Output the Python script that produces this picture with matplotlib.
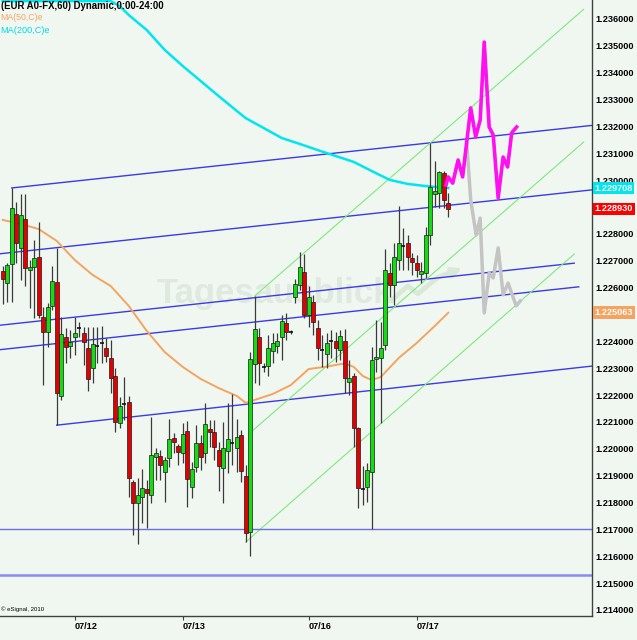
import matplotlib

matplotlib.use("Agg")
import matplotlib.pyplot as plt
import matplotlib.transforms as mtransforms
import numpy as np

plt.rcParams["font.family"] = ["Liberation Sans", "DejaVu Sans"]

BG = "#f0f7f0"

# --- hourly EUR candles (index 0 = first bar on the left) -------------------
opens = [
    1.22662, 1.22617, 1.22688, 1.22874, 1.22748, 1.22856, 1.22666, 1.22677, 1.22714, 1.22491,
    1.22435, 1.22532, 1.22621, 1.22197, 1.22416, 1.22383, 1.22416, 1.22450, 1.22431, 1.22375,
    1.22301, 1.22383, 1.22394, 1.22375, 1.22338, 1.22271, 1.22096, 1.22167, 1.22174, 1.21876,
    1.21798, 1.21821, 1.21850, 1.21828, 1.21970, 1.21973, 1.21914, 1.21966, 1.22040, 1.22010,
    1.21984, 1.22066, 1.21858, 1.21932, 1.22022, 1.21984, 1.22074, 1.22063, 1.21996, 1.21929,
    1.21992, 1.22022, 1.22003, 1.22051, 1.21899, 1.21690, 1.22316, 1.22416, 1.22305, 1.22308,
    1.22364, 1.22383, 1.22416, 1.22468, 1.22435, 1.22565, 1.22610, 1.22658, 1.22498, 1.22546,
    1.22450, 1.22368, 1.22353, 1.22401, 1.22401, 1.22368, 1.22401, 1.22249, 1.22271, 1.22077,
    1.21850, 1.21858, 1.21914, 1.22334, 1.22338, 1.22386, 1.22654, 1.22610, 1.22703, 1.22755,
    1.22766, 1.22710, 1.22692, 1.22651, 1.22654, 1.22796, 1.22949, 1.22952, 1.23027, 1.22915,
]
highs = [
    1.22681, 1.22692, 1.22971, 1.22919, 1.22949, 1.22949, 1.22703, 1.22777, 1.22844, 1.22528,
    1.22543, 1.22681, 1.22748, 1.22491, 1.22450, 1.22442, 1.22491, 1.22472, 1.22453, 1.22453,
    1.22453, 1.22453, 1.22457, 1.22412, 1.22405, 1.22301, 1.22193, 1.22267, 1.22197, 1.21884,
    1.21891, 1.21925, 1.21884, 1.22118, 1.22003, 1.21996, 1.21970, 1.22111, 1.22059, 1.22018,
    1.22096, 1.22104, 1.21951, 1.22089, 1.22051, 1.22171, 1.22107, 1.22107, 1.22025, 1.22100,
    1.22171, 1.22204, 1.22111, 1.22070, 1.21940, 1.22360, 1.22569, 1.22450, 1.22319, 1.22424,
    1.22431, 1.22431, 1.22498, 1.22506, 1.22442, 1.22632, 1.22733, 1.22725, 1.22606, 1.22573,
    1.22479, 1.22424, 1.22431, 1.22442, 1.22435, 1.22442, 1.22446, 1.22331, 1.22282, 1.22080,
    1.21936, 1.21947, 1.22379, 1.22479, 1.22472, 1.22744, 1.22692, 1.22766, 1.22904, 1.22822,
    1.22796, 1.22729, 1.22721, 1.22695, 1.22826, 1.23138, 1.23071, 1.23034, 1.23033, 1.22952,
]
lows = [
    1.22539, 1.22546, 1.22546, 1.22692, 1.22628, 1.22606, 1.22524, 1.22487, 1.22487, 1.22237,
    1.22379, 1.22517, 1.22089, 1.22182, 1.22319, 1.22338, 1.22349, 1.22416, 1.22312, 1.22215,
    1.22245, 1.22319, 1.22319, 1.22323, 1.22208, 1.22063, 1.22077, 1.22107, 1.21821, 1.21679,
    1.21646, 1.21724, 1.21705, 1.21798, 1.21884, 1.21884, 1.21802, 1.21932, 1.21984, 1.21940,
    1.21947, 1.21783, 1.21817, 1.21914, 1.21921, 1.21947, 1.22007, 1.21958, 1.21843, 1.21798,
    1.21910, 1.21940, 1.21914, 1.21876, 1.21653, 1.21601, 1.22245, 1.22237, 1.22286, 1.22271,
    1.22319, 1.22357, 1.22331, 1.22405, 1.22427, 1.22543, 1.22591, 1.22487, 1.22453, 1.22424,
    1.22331, 1.22305, 1.22301, 1.22338, 1.22323, 1.22331, 1.22208, 1.22200, 1.22007, 1.21780,
    1.21791, 1.21802, 1.21702, 1.22286, 1.22096, 1.22368, 1.22565, 1.22535, 1.22666, 1.22666,
    1.22666, 1.22647, 1.22640, 1.22617, 1.22636, 1.22759, 1.22900, 1.22896, 1.22896, 1.22863,
]
closes = [
    1.22632, 1.22684, 1.22896, 1.22766, 1.22870, 1.22673, 1.22677, 1.22710, 1.22498, 1.22435,
    1.22528, 1.22625, 1.22208, 1.22427, 1.22379, 1.22398, 1.22431, 1.22449, 1.22398, 1.22260,
    1.22390, 1.22382, 1.22395, 1.22345, 1.22264, 1.22100, 1.22159, 1.22166, 1.21891, 1.21798,
    1.21828, 1.21854, 1.21835, 1.21977, 1.21984, 1.21940, 1.21958, 1.22036, 1.22025, 1.21988,
    1.22055, 1.21888, 1.21925, 1.22022, 1.21970, 1.22092, 1.22063, 1.22007, 1.21936, 1.22003,
    1.22036, 1.22021, 1.22044, 1.21917, 1.21687, 1.22334, 1.22446, 1.22319, 1.22304, 1.22375,
    1.22394, 1.22401, 1.22476, 1.22435, 1.22434, 1.22614, 1.22677, 1.22498, 1.22565, 1.22472,
    1.22375, 1.22367, 1.22394, 1.22402, 1.22375, 1.22420, 1.22264, 1.22264, 1.22077, 1.21854,
    1.21849, 1.21921, 1.22331, 1.22342, 1.22375, 1.22666, 1.22610, 1.22714, 1.22766, 1.22754,
    1.22714, 1.22695, 1.22666, 1.22662, 1.22796, 1.22975, 1.22960, 1.23030, 1.22926, 1.22893,
]

# --- moving averages (read at some bars) ------------------------------------
ma50_idx = [0, 4, 8, 12, 16, 20, 24, 28, 32, 36, 40, 44, 48, 52, 54, 56, 60, 64, 68,
            72, 76, 78, 80, 82, 84, 88, 92, 96, 99]
ma50_val = [1.22852, 1.22837, 1.22818, 1.22774, 1.22703, 1.22647, 1.22606, 1.22532, 1.22439,
            1.22360, 1.22305, 1.22260, 1.22226, 1.22197, 1.22171, 1.22182, 1.22204, 1.22237,
            1.22297, 1.22306, 1.22318, 1.22305, 1.22271, 1.22256, 1.22267, 1.22338, 1.22394,
            1.22457, 1.225063]

ma200_idx = [0, 8, 16, 20, 24, 26, 28, 32, 36, 40, 44, 48, 52, 54, 58, 62, 66, 70, 74,
             78, 82, 86, 90, 94, 99]
ma200_val = [1.24043, 1.23931, 1.23812, 1.23745, 1.23678, 1.23648, 1.23615, 1.23559, 1.23485,
             1.23425, 1.23369, 1.23313, 1.23258, 1.23231, 1.23194, 1.23157, 1.23135, 1.23112,
             1.23090, 1.23068, 1.23034, 1.23001, 1.22986, 1.22978, 1.229708]

# --- drawn trend lines: (bar0, price0, bar1, price1) -------------------------
blue_lines = [
    (2, 1.22971, 131, 1.23204),
    (-0.6, 1.22726, 131, 1.22964),
    (-0.6, 1.22460, 127, 1.22691),
    (-0.6, 1.22369, 128, 1.22603),
    (12, 1.22088, 131, 1.22308),
]
green_lines = [
    (56, 1.22569, 129.1, 1.23636),
    (55.7, 1.22070, 129.1, 1.23142),
    (54, 1.21653, 127, 1.22725),
]
support_levels = [1.21700, 1.21531]

# --- hand-drawn scenarios ---------------------------------------------------
magenta_x = [98.5, 99.0, 100.0, 101.2, 102.2, 104.0, 105.1, 106.1, 107.0, 108.1, 109.0,
             110.1, 111.2, 112.2, 113.1, 114.2]
magenta_p = [1.22982, 1.23012, 1.22989, 1.23075, 1.23012, 1.23269, 1.23161, 1.23224, 1.23514,
             1.23198, 1.23168, 1.22934, 1.23086, 1.23049, 1.23176, 1.23198]
gray_x = [103.1, 104.0, 105.2, 106.1, 107.0, 108.1, 109.0, 110.1, 111.2, 112.3, 114.1, 115.0]
gray_p = [1.23140, 1.22926, 1.22796, 1.22859, 1.22506, 1.22654, 1.22636, 1.22748, 1.22573,
          1.22617, 1.22532, 1.22550]

date_pos = [16, 40, 68, 92]
date_labels = ["07/12", "07/13", "07/16", "07/17"]
price_ticks = [1.214, 1.215, 1.216, 1.217, 1.218, 1.219, 1.220, 1.221, 1.222, 1.223, 1.224,
               1.226, 1.227, 1.228, 1.230, 1.231, 1.232, 1.233, 1.234, 1.235, 1.236]

Y_MIN, Y_MAX = 1.213776, 1.236707

fig = plt.figure(figsize=(6.37, 6.40), dpi=100, facecolor=BG)
ax = fig.add_axes([0, 24 / 640, 592 / 637, 616 / 640], facecolor=BG)
ax.set_xlim(-0.6, 130.95)
ax.set_ylim(Y_MIN, Y_MAX)

# watermark
ax.text(0.465, 0.524, "Tagesausblick", transform=ax.transAxes, ha="center", va="center",
        fontsize=25, fontweight="bold", color="#e0e9e0", zorder=0)
ax.plot([0.662, 0.689, 0.706, 0.740, 0.768], [0.513, 0.536, 0.523, 0.550, 0.560],
        transform=ax.transAxes, color="#d8e9d8", lw=3.5, zorder=0)
ax.annotate("", xy=(0.785, 0.566), xytext=(0.755, 0.555), xycoords="axes fraction",
            arrowprops=dict(arrowstyle="-|>", color="#d8e9d8", lw=3, mutation_scale=14), zorder=0)

# trend lines
for x0, p0, x1, p1 in blue_lines:
    ax.plot([x0, x1], [p0, p1], color="#3a3ae6", lw=1.0, zorder=1)
for x0, p0, x1, p1 in green_lines:
    ax.plot([x0, x1], [p0, p1], color="#7ee87e", lw=0.8, zorder=1)
ax.axhline(support_levels[0], color="#6c6cec", lw=1.0, zorder=1)
ax.axhline(support_levels[1], color="#8a8af0", lw=1.8, zorder=1)

# moving averages
ax.plot(ma50_idx, ma50_val, color="#f4a460", lw=1.4, zorder=2)
ax.plot(ma200_idx, np.minimum(ma200_val, Y_MAX - 0.00004), color="#00e5ee", lw=1.8, zorder=2)

# candles
o = np.array(opens)
h = np.array(highs)
l = np.array(lows)
c = np.array(closes)
idx = np.arange(len(o))
ax.vlines(idx, l, h, color="#3a3a3a", lw=0.9, zorder=3)
doji = np.abs(c - o) < 2.5e-5
up = (c > o) & ~doji
down = (c < o) & ~doji
ax.bar(idx[up], (c - o)[up], bottom=o[up], width=0.8, color="#11dd11",
       edgecolor="#1a1a1a", lw=0.5, zorder=4)
ax.bar(idx[down], (o - c)[down], bottom=c[down], width=0.8, color="#e40000",
       edgecolor="#1a1a1a", lw=0.5, zorder=4)
ax.hlines(c[doji], idx[doji] - 0.4, idx[doji] + 0.4, color="#111111", lw=1.2, zorder=4)

# scenarios
ax.plot(gray_x, gray_p, color="#c4c4c4", lw=2.5, zorder=5)
ax.plot(magenta_x, magenta_p, color="#ff10f0", lw=2.6, zorder=6)

# axes styling
for side in ["top", "left"]:
    ax.spines[side].set_visible(False)
for side in ["right", "bottom"]:
    ax.spines[side].set_color("#404040")
    ax.spines[side].set_linewidth(1.0)

ax.yaxis.tick_right()
ax.set_yticks(price_ticks)
ax.set_yticklabels([f"{v:.6f}" for v in price_ticks], fontweight="bold", fontsize=6.6)
ax.tick_params(axis="y", length=0, pad=2.6)

ax.set_xticks(date_pos)
ax.set_xticklabels(date_labels, fontweight="bold", fontsize=6.6, ha="left")
ax.tick_params(axis="x", length=3, width=0.8, color="#404040", pad=1.5)

# last value markers on the price scale
trans = mtransforms.blended_transform_factory(ax.transAxes, ax.transData)
for val, col in [(ma200_val[-1], "#00e5ee"), (closes[-1], "#ff0000"), (ma50_val[-1], "#f4a460")]:
    ax.text(1.004, val, f"{val:.6f}", transform=trans, ha="left", va="center", fontsize=6.6,
            fontweight="bold", color="white", clip_on=False, zorder=10,
            bbox=dict(boxstyle="square,pad=0.2", fc=col, ec="none"))

# header texts
ax.text(0.001, 0.990, "(EUR A0-FX,60) Dynamic,0:00-24:00", transform=ax.transAxes,
        ha="left", va="center", fontsize=6.9, fontweight="bold", color="black", zorder=11)
ax.text(0.0, 0.972, "MA(50,C)e", transform=ax.transAxes, ha="left", va="center",
        fontsize=6.3, color="#f4a460", zorder=11)
ax.text(0.0, 0.950, "MA(200,C)e", transform=ax.transAxes, ha="left", va="center",
        fontsize=6.6, color="#00d8e8", zorder=11)
ax.text(0.002, 0.011, "\u00a9 eSignal, 2010", transform=ax.transAxes, ha="left", va="center",
        fontsize=4.3, color="black", zorder=11)

fig.savefig("out.png", dpi=100, facecolor=BG)
plt.close(fig)
